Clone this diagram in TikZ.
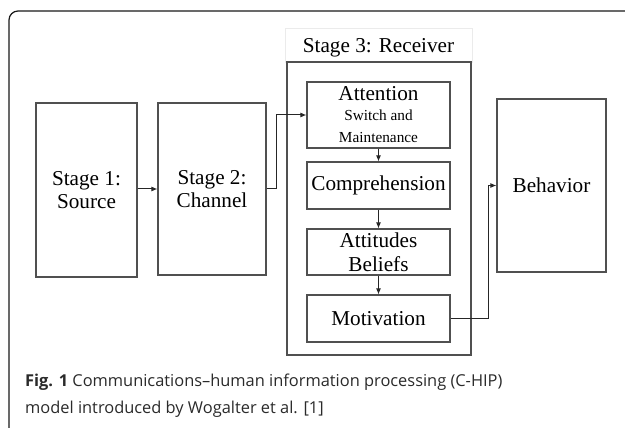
\documentclass[tikz,border=0pt]{standalone}
\usepackage{fontspec}
\setmainfont{Liberation Serif}
\newfontfamily\capfont{Open Sans}
\usetikzlibrary{arrows.meta}
\definecolor{boxline}{HTML}{505050}
\definecolor{capcol}{HTML}{2a2a2a}
\tikzset{
  box/.style={draw=boxline, line width=1.1pt, rectangle, inner sep=0pt, align=center,
    font=\fontsize{21.2}{23.5}\selectfont},
  smalltxt/.style={font=\fontsize{15.3}{18}\selectfont, anchor=base, inner sep=0pt},
  bigtxt/.style={font=\fontsize{21.2}{23.5}\selectfont, anchor=base, inner sep=0pt},
  arr/.style={draw=black!85, line width=1pt, -{Latex[length=6pt,width=5pt]}},
  captxt/.style={font=\capfont\fontsize{16.4}{20}\selectfont, text=capcol, anchor=base west, inner sep=0pt}
}
\begin{document}
\begin{tikzpicture}[x=1pt,y=-1pt]
\useasboundingbox (0,0) rectangle (625,428);
\begin{scope}
\clip (0,0) rectangle (625,428);
\draw[line width=1.2pt, black!90, rounded corners=9pt] (9,11) rectangle (660,460);
\end{scope}
% stage 3 label
\node[draw=black!8, line width=0.6pt, minimum width=187pt, minimum height=34pt, inner sep=0pt] (lbl) at (378.5,45) {};
\node[bigtxt] (lblT) at (378.5,53) {Stage 3: Receiver};
% boxes
\node[box, minimum width=101pt, minimum height=174pt] (src) at (86.5,190) {Stage 1:\\Source};
\node[box, minimum width=108pt, minimum height=172pt] (chan) at (212,189) {Stage 2:\\Channel};
\node[box, minimum width=184pt, minimum height=293pt] (recv) at (379,208.5) {};
\node[box, minimum width=143pt, minimum height=66pt] (att) at (378.5,115) {};
\node[bigtxt] (attT) at (378.5,100.5) {Attention};
\node[smalltxt] (attS) at (378.5,120.5) {Switch and};
\node[smalltxt] (attM) at (378.5,142.5) {Maintenance};
\node[box, minimum width=143pt, minimum height=47pt] (comp) at (378.5,185.5) {Comprehension};
\node[box, minimum width=143pt, minimum height=46pt] (attit) at (378.5,252) {Attitudes\\Beliefs};
\node[box, minimum width=143pt, minimum height=47pt] (mot) at (378.5,318.5) {Motivation};
\node[box, minimum width=109pt, minimum height=173pt] (beh) at (551.5,185.5) {Behavior};
% connectors
\draw[arr] (src.east |- 0,189) -- (chan.west |- 0,189);
\draw[arr] (chan.east) -- ++(10,0) |- (att.west);
\draw[arr] (att.south) -- (comp.north);
\draw[arr] (comp.south) -- (attit.north);
\draw[arr] (attit.south) -- (mot.north);
\coordinate (bend) at (488,318.5);
\draw[arr] (mot.east) -- (bend) |- (beh.west);
% caption
\node[captxt] (cap1) at (25,386.5) {\textbf{Fig. 1} Communications–human information processing (C-HIP)};
\node[captxt] (cap2) at (25,413) {model introduced by Wogalter et al. [1]};
\end{tikzpicture}
\end{document}
